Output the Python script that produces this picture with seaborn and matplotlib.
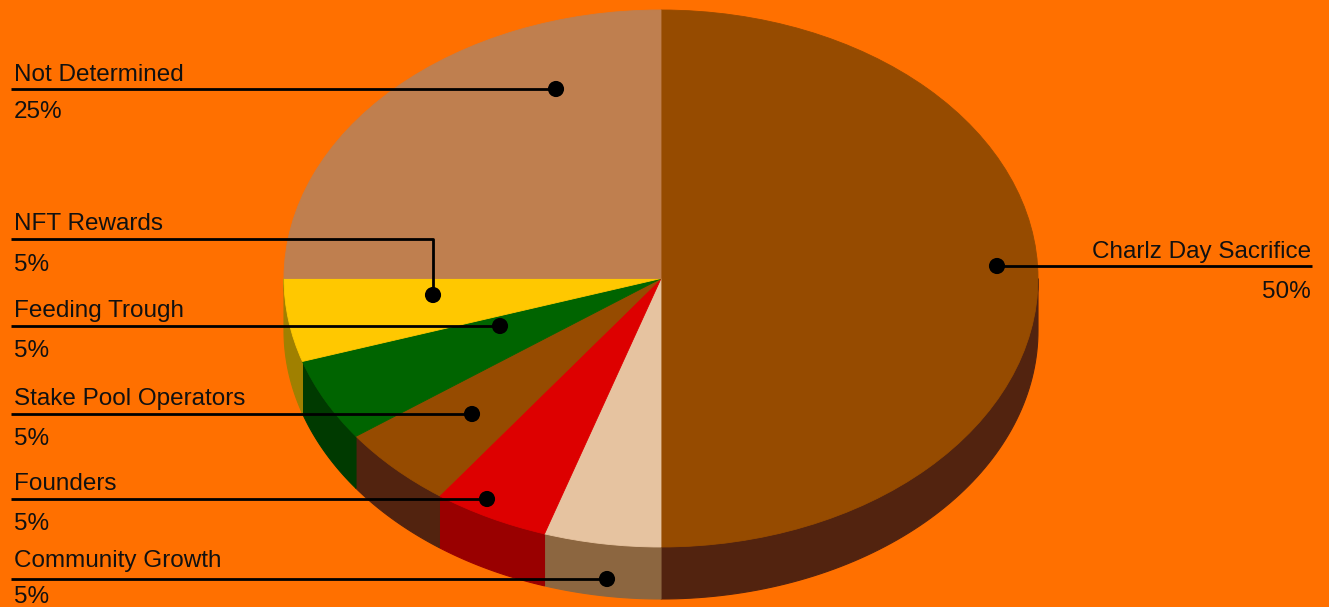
import numpy as np
import matplotlib
matplotlib.use("Agg")
import matplotlib.pyplot as plt
import seaborn as sns
import pandas as pd

# ---- data ----
categories = ["Charlz Day Sacrifice", "Community Growth", "Founders",
              "Stake Pool Operators", "Feeding Trough", "NFT Rewards", "Not Determined"]
shares = [50, 5, 5, 5, 5, 5, 25]
pct_labels = ["50%", "5%", "5%", "5%", "5%", "5%", "25%"]
top_colors = ["#964B00", "#E6C3A0", "#DD0000", "#964B00", "#006400", "#FFC800", "#BF7F4F"]
side_colors = ["#52230F", "#8C6640", "#990000", "#52230F", "#003A00", "#A08000", "#7A5030"]

# ---- layout (pixels) ----
W, H = 1329, 607
cx, cy, rx, ry = 661, 278.5, 377, 268.5
depth_px = 52
bg = "#FF7000"
# label layout: (side, line_y, dot_x, dot_y, name_baseline, pct_baseline)
label_layout = {
    "Charlz Day Sacrifice": ("right", 266, 997, 266, 258, 298),
    "Community Growth": ("left", 579, 607, 579, 567, 603),
    "Founders": ("left", 499, 487, 499, 490, 530),
    "Stake Pool Operators": ("left", 414, 472, 414, 405, 445),
    "Feeding Trough": ("left", 326, 500, 326, 317, 357),
    "NFT Rewards": ("left", 239, 433, 295, 230, 271),
    "Not Determined": ("left", 89, 556, 89, 81, 118),
}

sns.set_theme(style="white")
plt.rcParams['font.family'] = ['Liberation Sans', 'DejaVu Sans']

fig = plt.figure(figsize=(W / 100, H / 100), dpi=100)
fig.patch.set_facecolor(bg)
ax = fig.add_axes([0, 0, 1, 1])
ax.set_facecolor(bg)


def px(x, y):
    return (x - cx) / rx, (cy - y) / ry


d = depth_px / ry
fracs = np.array(shares, dtype=float) / sum(shares)
starts = 90 - 360 * np.concatenate([[0], np.cumsum(fracs)[:-1]])
ends = starts - 360 * fracs

# side walls (front half only)
for s, e, c in zip(starts, ends, side_colors):
    lo, hi = max(e, -180), min(s, 0)
    if hi - lo <= 0:
        continue
    t = np.radians(np.linspace(hi, lo, 80))
    xs = np.concatenate([np.cos(t), np.cos(t[::-1])])
    ys = np.concatenate([np.sin(t), np.sin(t[::-1]) - d])
    ax.fill(xs, ys, color=c, lw=0.8, ec=c, zorder=1)

# top face
wedges, _ = ax.pie(shares, colors=top_colors, startangle=90, counterclock=False,
                   radius=1, center=(0, 0), wedgeprops=dict(linewidth=0.6))
for w, c in zip(wedges, top_colors):
    w.set_edgecolor(c)
    w.set_zorder(2)

# labels
dots = []
for cat, pct in zip(categories, pct_labels):
    side, ly, dx, dy, nb, pb = label_layout[cat]
    if side == "left":
        xs_l = [11, dx, dx]
        ys_l = [ly, ly, dy]
        tx, ha = 14, "left"
    else:
        xs_l = [dx, 1312]
        ys_l = [ly, ly]
        tx, ha = 1311, "right"
    pts = [px(a, b) for a, b in zip(xs_l, ys_l)]
    ax.plot([p[0] for p in pts], [p[1] for p in pts], color="black", lw=2.0,
            solid_capstyle="butt", zorder=4)
    ax.text(*px(tx, nb), cat, ha=ha, va="baseline", fontsize=17.5, color="#111111", zorder=5)
    ax.text(*px(tx, pb), pct, ha=ha, va="baseline", fontsize=17.5, color="#111111", zorder=5)
    dots.append(px(dx, dy))

dot_df = pd.DataFrame(dots, columns=["x", "y"])
sns.scatterplot(data=dot_df, x="x", y="y", ax=ax, s=135, color="black",
                edgecolor="none", zorder=6, legend=False)

ax.set_aspect("auto")
ax.set_xlim(-cx / rx, (W - cx) / rx)
ax.set_ylim(-(H - cy) / ry, cy / ry)
ax.axis("off")

fig.savefig("out.png", dpi=100, facecolor=bg)
